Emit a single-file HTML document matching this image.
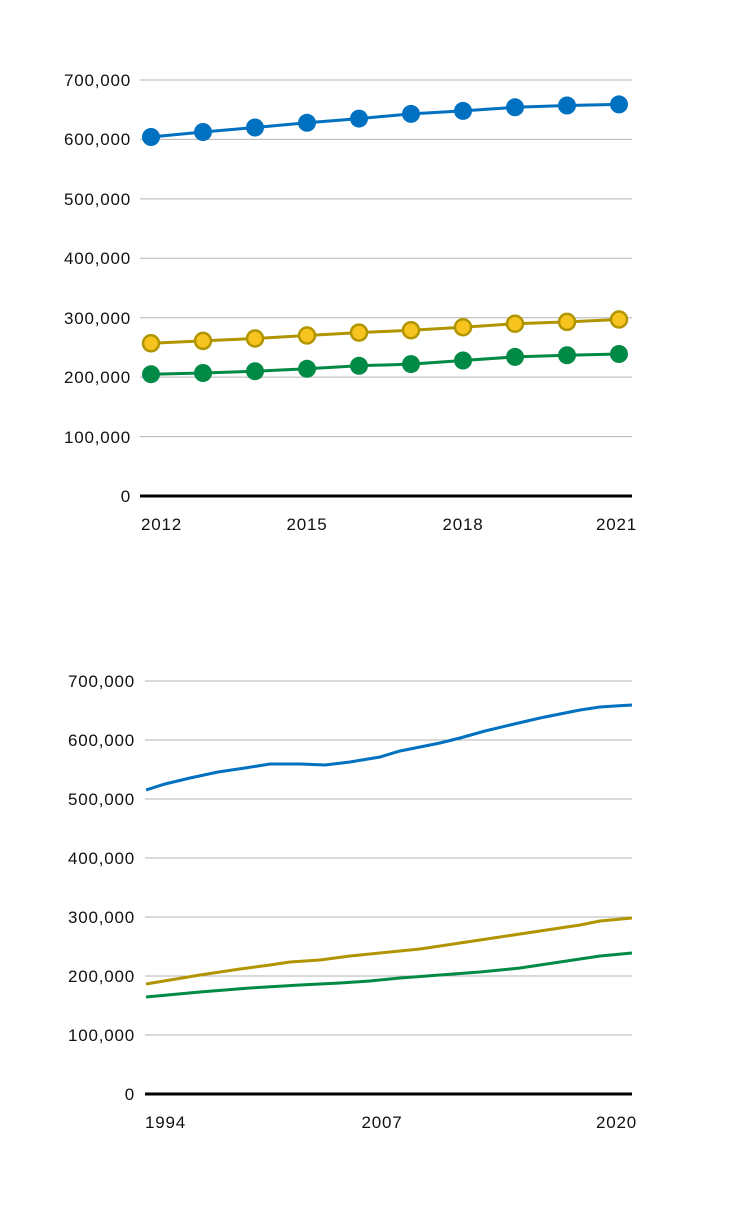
<!DOCTYPE html>
<html><head><meta charset="utf-8"><style>
body{margin:0;background:#fff;}
svg text{font-family:"Liberation Sans",sans-serif;font-size:17px;letter-spacing:0.8px;fill:#111;}
</style></head><body>
<svg width="735" height="1205" viewBox="0 0 735 1205" xmlns="http://www.w3.org/2000/svg">
<g stroke="#b3b3b3" stroke-width="1">
<line x1="140" y1="80" x2="632" y2="80"/><line x1="140" y1="139.4" x2="632" y2="139.4"/>
<line x1="140" y1="198.9" x2="632" y2="198.9"/><line x1="140" y1="258.3" x2="632" y2="258.3"/>
<line x1="140" y1="317.7" x2="632" y2="317.7"/><line x1="140" y1="377.1" x2="632" y2="377.1"/>
<line x1="140" y1="436.6" x2="632" y2="436.6"/>
</g>
<line x1="140" y1="496" x2="632" y2="496" stroke="#000" stroke-width="3"/>
<g text-anchor="end">
<text x="131" y="86">700,000</text><text x="131" y="145">600,000</text><text x="131" y="205">500,000</text>
<text x="131" y="264">400,000</text><text x="131" y="324">300,000</text><text x="131" y="383">200,000</text>
<text x="131" y="443">100,000</text><text x="131" y="502">0</text>
</g>
<text x="141" y="530">2012</text><text x="307" y="530" text-anchor="middle">2015</text>
<text x="463" y="530" text-anchor="middle">2018</text><text x="637" y="530" text-anchor="end">2021</text>
<polyline fill="none" stroke="#0070c0" stroke-width="3" points="151,137 203,132 255,127.5 307,122.8 359,118.6 411,113.9 463,110.9 515,107.3 567,105.5 619,104.4"/>
<g fill="#0070c0">
<circle cx="151" cy="137" r="9"/><circle cx="203" cy="132" r="9"/><circle cx="255" cy="127.5" r="9"/><circle cx="307" cy="122.8" r="9"/><circle cx="359" cy="118.6" r="9"/><circle cx="411" cy="113.9" r="9"/><circle cx="463" cy="110.9" r="9"/><circle cx="515" cy="107.3" r="9"/><circle cx="567" cy="105.5" r="9"/><circle cx="619" cy="104.4" r="9"/>
</g>
<polyline fill="none" stroke="#b09500" stroke-width="3" points="151,343.3 203,340.9 255,338.5 307,335.5 359,332.6 411,330.2 463,327.2 515,323.7 567,321.9 619,319.5"/>
<g fill="#f7c31f" stroke="#b09500" stroke-width="2.5">
<circle cx="151" cy="343.3" r="8"/><circle cx="203" cy="340.9" r="8"/><circle cx="255" cy="338.5" r="8"/><circle cx="307" cy="335.5" r="8"/><circle cx="359" cy="332.6" r="8"/><circle cx="411" cy="330.2" r="8"/><circle cx="463" cy="327.2" r="8"/><circle cx="515" cy="323.7" r="8"/><circle cx="567" cy="321.9" r="8"/><circle cx="619" cy="319.5" r="8"/>
</g>
<polyline fill="none" stroke="#008a45" stroke-width="3" points="151,374.2 203,373 255,371.2 307,368.8 359,365.8 411,364.1 463,360.5 515,356.9 567,355.2 619,354"/>
<g fill="#008a45">
<circle cx="151" cy="374.2" r="9"/><circle cx="203" cy="373" r="9"/><circle cx="255" cy="371.2" r="9"/><circle cx="307" cy="368.8" r="9"/><circle cx="359" cy="365.8" r="9"/><circle cx="411" cy="364.1" r="9"/><circle cx="463" cy="360.5" r="9"/><circle cx="515" cy="356.9" r="9"/><circle cx="567" cy="355.2" r="9"/><circle cx="619" cy="354" r="9"/>
</g>

<g stroke="#b3b3b3" stroke-width="1">
<line x1="145" y1="681" x2="632" y2="681"/><line x1="145" y1="740" x2="632" y2="740"/>
<line x1="145" y1="799" x2="632" y2="799"/><line x1="145" y1="858" x2="632" y2="858"/>
<line x1="145" y1="917" x2="632" y2="917"/><line x1="145" y1="976" x2="632" y2="976"/>
<line x1="145" y1="1035" x2="632" y2="1035"/>
</g>
<line x1="145" y1="1094" x2="632" y2="1094" stroke="#000" stroke-width="3"/>
<g text-anchor="end">
<text x="135" y="687">700,000</text><text x="135" y="746">600,000</text><text x="135" y="805">500,000</text>
<text x="135" y="864">400,000</text><text x="135" y="923">300,000</text><text x="135" y="982">200,000</text>
<text x="135" y="1041">100,000</text><text x="135" y="1100">0</text>
</g>
<text x="145" y="1128">1994</text><text x="382" y="1128" text-anchor="middle">2007</text>
<text x="637" y="1128" text-anchor="end">2020</text>
<polyline fill="none" stroke="#0070c0" stroke-width="3" points="146,790 165,784 190,778 218,772 245,768 270,764 300,764 325,765 350,762 380,757 400,751 420,747 440,743 460,738 485,731 510,725 540,718 565,713 580,710 600,707 615,706 632,705"/>
<polyline fill="none" stroke="#b09500" stroke-width="3" points="146,984 200,975 240,969 270,965 290,962 320,960 350,956 380,953 420,949 460,943 500,937 540,931 580,925 600,921 632,918"/>
<polyline fill="none" stroke="#008a45" stroke-width="3" points="146,997 200,992 250,988 300,985 340,983 370,981 400,978 440,975 480,972 520,968 560,962 600,956 632,953"/>
</svg>
</body></html>
